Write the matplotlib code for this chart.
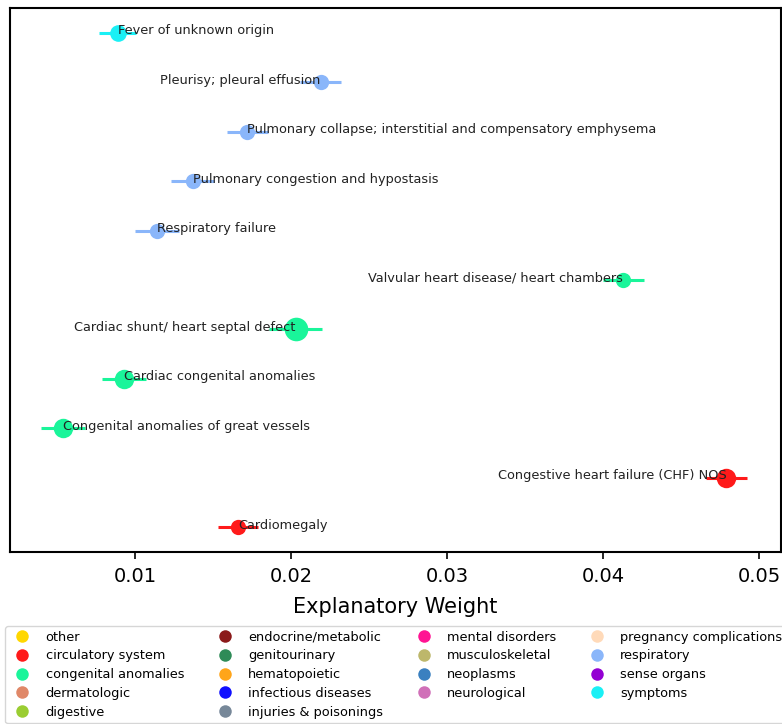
import matplotlib.pyplot as plt
from matplotlib.lines import Line2D
from matplotlib.transforms import offset_copy

# ICD chapter colours
categories = ['other', 'circulatory system', 'congenital anomalies', 'dermatologic',
              'digestive', 'endocrine/metabolic', 'genitourinary', 'hematopoietic',
              'infectious diseases', 'injuries & poisonings', 'mental disorders',
              'musculoskeletal', 'neoplasms', 'neurological', 'pregnancy complications',
              'respiratory', 'sense organs', 'symptoms']
category_colors = ['#FFD700', '#FF1A1A', '#1AF59A', '#E08868', '#9ACD32', '#8B1A1A',
                   '#2E8B57', '#FFA51A', '#1010FF', '#778899', '#FF1493', '#BDB76B',
                   '#3A80C0', '#D070B8', '#FFDAB9', '#8AB6FA', '#9400D3', '#1AF0F5']

# phenotypes, bottom to top
phenotypes = ['Cardiomegaly', 'Congestive heart failure (CHF) NOS',
              'Congenital anomalies of great vessels', 'Cardiac congenital anomalies',
              'Cardiac shunt/ heart septal defect', 'Valvular heart disease/ heart chambers',
              'Respiratory failure', 'Pulmonary congestion and hypostasis',
              'Pulmonary collapse; interstitial and compensatory emphysema',
              'Pleurisy; pleural effusion', 'Fever of unknown origin']
phenotype_category = ['circulatory system', 'circulatory system',
                      'congenital anomalies', 'congenital anomalies',
                      'congenital anomalies', 'congenital anomalies',
                      'respiratory', 'respiratory', 'respiratory', 'respiratory',
                      'symptoms']
weights = [0.0166, 0.0479, 0.0054, 0.0093, 0.0203, 0.0413,
           0.0114, 0.0137, 0.0172, 0.0219, 0.0089]
errors = [0.0013, 0.0013, 0.0014, 0.0014, 0.0017, 0.0013,
          0.0014, 0.0014, 0.0013, 0.0013, 0.0012]
marker_sizes = [11, 14, 14, 14, 17, 11, 11, 11, 11, 11, 12]

color_of = dict(zip(categories, category_colors))

fig = plt.figure(figsize=(7.82, 7.24), dpi=100)
ax = fig.add_axes([10 / 782, 172 / 724, 771 / 782, 544 / 724])

for i, (name, cat, w, e, ms) in enumerate(zip(phenotypes, phenotype_category,
                                               weights, errors, marker_sizes)):
    c = color_of[cat]
    ax.plot([w - e, w + e], [i, i], color=c, lw=2.2, solid_capstyle='butt', zorder=2)
    ax.plot(w, i, 'o', color=c, ms=ms, mec='none', zorder=3)
    # labels on the right half of the plot end at the point instead of starting there
    ha = 'right' if w > 0.019 else 'left'
    ax.text(w, i, name, ha=ha, va='baseline', fontsize=9.3, color='#222222', zorder=4,
            transform=offset_copy(ax.transData, fig=fig, y=-1.5, units='dots'))

ax.set_xlim(0.0020, 0.0514)
ax.set_ylim(-0.5, 10.5)
ax.set_yticks([])
ax.set_xticks([0.01, 0.02, 0.03, 0.04, 0.05])
ax.tick_params(axis='x', labelsize=14, length=5, width=1.2, pad=6)
ax.set_xlabel('Explanatory Weight', fontsize=15, labelpad=8)
for s in ax.spines.values():
    s.set_linewidth(1.5)

handles = [Line2D([], [], marker='o', ls='none', color=c, ms=9, mec='none')
           for c in category_colors]
fig.legend(handles, categories, loc='upper left', bbox_to_anchor=(5 / 782, 1 - 626 / 724),
           ncol=4, fontsize=9.3, labelspacing=0.45, columnspacing=2.15,
           handletextpad=0.8, borderpad=0.35, borderaxespad=0, frameon=True,
           edgecolor='#cccccc')

fig.savefig('out.png', dpi=100)
